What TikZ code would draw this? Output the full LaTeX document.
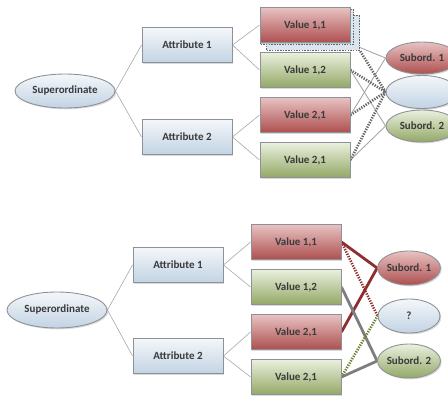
\documentclass[tikz,border=0pt]{standalone}
\usepackage{fontspec}
\setmainfont{Carlito}
\usetikzlibrary{shapes.geometric,shadows,backgrounds}
\definecolor{txt}{HTML}{3A3A3A}
\definecolor{edge}{HTML}{8E9296}
\definecolor{lnk}{HTML}{A8A8A8}
\definecolor{bluetop}{HTML}{F4F7FA}
\definecolor{bluebot}{HTML}{C2D3E4}
\definecolor{redtop}{HTML}{E8C2C2}
\definecolor{redbot}{HTML}{AE4F4F}
\definecolor{greentop}{HTML}{EAF0DE}
\definecolor{greenbot}{HTML}{93A867}
\definecolor{darkred}{HTML}{8E2E2E}
\definecolor{olive}{HTML}{6E7F34}
\definecolor{thickgray}{HTML}{7E7E7E}
\definecolor{dotgray}{HTML}{666666}
\tikzset{
  base/.style={draw=edge, line width=0.9pt, text=txt, font=\bfseries\fontsize{11}{13}\selectfont,
    drop shadow={opacity=0.3, shadow xshift=1.3pt, shadow yshift=-1.3pt}},
  boxnode/.style={base, rectangle, minimum width=90pt, minimum height=35pt, inner sep=0pt},
  ellnode/.style={base, ellipse, minimum height=34pt, inner sep=0pt},
  blue/.style={shading=axis, top color=bluetop, bottom color=bluebot},
  red/.style={shading=axis, top color=redtop, bottom color=redbot},
  green/.style={shading=axis, top color=greentop, bottom color=greenbot},
  tree/.style={draw=lnk, line width=0.6pt},
  thinlink/.style={draw=lnk, line width=0.9pt},
  dotlink/.style={draw=dotgray, line width=2.6pt, dash pattern=on 1.3pt off 1.3pt},
  shadowbox/.style={draw=dotgray, line width=1.6pt, dash pattern=on 1.5pt off 1.2pt, fill=bluebot!60,
    minimum width=93pt, minimum height=35pt, inner sep=0pt},
  redlink/.style={draw=darkred, line width=2.8pt},
  graylink/.style={draw=thickgray, line width=2.8pt},
  reddot/.style={draw=darkred, line width=2.6pt, dash pattern=on 1.3pt off 1.3pt},
  greendot/.style={draw=olive, line width=2.6pt, dash pattern=on 1.3pt off 1.3pt},
}
\begin{document}
\begin{tikzpicture}[x=1pt,y=-1pt]
\useasboundingbox (0,0) rectangle (448,398);
% ---------------- top panel ----------------
\node[shadowbox] (sha) at (313,33) {};
\node[shadowbox] (shb) at (307,27) {};
\coordinate (shc) at (sha.south east);
\node[ellnode, blue, minimum width=100pt] (tsup) at (65,91) {Superordinate};
\node[boxnode, blue] (ta1) at (187,45) {Attribute 1};
\node[boxnode, blue] (ta2) at (187,137) {Attribute 2};
\node[boxnode, red] (tv11) at (305,25) {Value 1,1};
\node[boxnode, green] (tv12) at (305,70) {Value 1,2};
\node[boxnode, red] (tv21) at (305,115) {Value 2,1};
\node[boxnode, green] (tv22) at (305,160) {Value 2,1};
\node[ellnode, red, minimum width=72pt, minimum height=32pt] (ts1) at (422,58) {Subord. 1};
\node[ellnode, blue, minimum width=72pt, minimum height=33pt] (tq) at (422,92) {};
\node[ellnode, green, minimum width=72pt, minimum height=32pt] (ts2) at (422,126) {Subord. 2};
% ---------------- bottom panel ----------------
\node[ellnode, blue, minimum width=100pt, minimum height=36pt] (bsup) at (57,310) {Superordinate};
\node[boxnode, blue] (ba1) at (178,265) {Attribute 1};
\node[boxnode, blue] (ba2) at (178,356) {Attribute 2};
\node[boxnode, red] (bv11) at (296,242) {Value 1,1};
\node[boxnode, green] (bv12) at (296,287) {Value 1,2};
\node[boxnode, red] (bv21) at (296,332) {Value 2,1};
\node[boxnode, green] (bv22) at (296,377) {Value 2,1};
\node[ellnode, red, minimum width=62pt] (bs1) at (409,268) {Subord. 1};
\node[ellnode, blue, minimum width=62pt] (bq) at (409,316) {?};
\node[ellnode, green, minimum width=62pt] (bs2) at (409,361) {Subord. 2};
\begin{scope}[on background layer]
\draw[tree] (tsup.east) -- (ta1.west);
\draw[tree] (tsup.east) -- (ta2.west);
\draw[tree] (ta1.east) -- (tv11.west);
\draw[tree] (ta1.east) -- (tv12.west);
\draw[tree] (ta2.east) -- (tv21.west);
\draw[tree] (ta2.east) -- (tv22.west);
\draw[thinlink] (tv11.center) -- (ts1.west);
\draw[thinlink] (tv21.east) -- (ts1.west);
\draw[thinlink] (tv12.east) -- (ts2.west);
\draw[thinlink] (tv22.east) -- (ts2.west);
\draw[dotlink] (shc) -- (tq.west);
\draw[dotlink] (tv12.east) -- (tq.west);
\draw[dotlink] (tv21.east) -- (tq.west);
\draw[dotlink] (tv22.east) -- (tq.west);
\draw[tree] (bsup.east) -- (ba1.west);
\draw[tree] (bsup.east) -- (ba2.west);
\draw[tree] (ba1.east) -- (bv11.west);
\draw[tree] (ba1.east) -- (bv12.west);
\draw[tree] (ba2.east) -- (bv21.west);
\draw[tree] (ba2.east) -- (bv22.west);
\draw[redlink] (bv11.east) -- (bs1.west);
\draw[redlink] (bv21.east) -- (bs1.west);
\draw[graylink] (bv12.east) -- (bs2.west);
\draw[graylink] (bv22.east) -- (bs2.west);
\draw[reddot] (bv11.east) -- (bq.west);
\draw[greendot] (bv22.east) -- (bq.west);
\end{scope}
\end{tikzpicture}
\end{document}
